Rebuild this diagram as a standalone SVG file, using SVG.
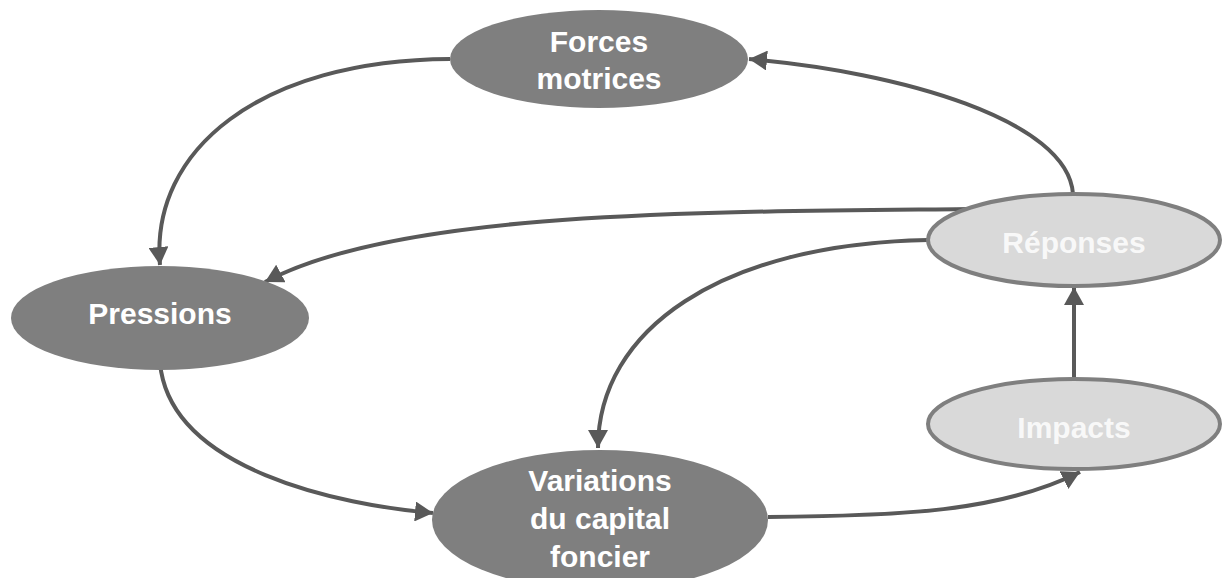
<svg xmlns="http://www.w3.org/2000/svg" width="1222" height="578" viewBox="0 0 1222 578">
<style>
.dark{fill:#7f7f7f;}
.light{fill:#d9d9d9;stroke:#7f7f7f;stroke-width:4;}
.lbl{font-family:"Liberation Sans",Arial,sans-serif;font-weight:bold;font-size:30px;fill:#ffffff;text-anchor:middle;}
.lblL{font-family:"Liberation Sans",Arial,sans-serif;font-weight:bold;font-size:30px;fill:#f8f8f8;text-anchor:middle;}
.edge{fill:none;stroke:#595959;stroke-width:4;}
</style>
<defs>
<marker id="arr" markerUnits="userSpaceOnUse" markerWidth="20" markerHeight="20" refX="18" refY="10" orient="auto">
<path d="M0,0 L18,10 L0,20 Z" fill="#595959"/>
</marker>
</defs>
<rect width="1222" height="578" fill="#ffffff"/>
<g id="connectors">
<path class="edge" marker-end="url(#arr)" d="M450,59 C260,60 150,150 160,265"/>
<path class="edge" marker-end="url(#arr)" d="M1073,194 C1068,120 900,72 749,59"/>
<path class="edge" marker-end="url(#arr)" d="M972,209 C700,212 400,210 265,282"/>
<path class="edge" marker-end="url(#arr)" d="M928,240 C720,244 598,330 598,448"/>
<path class="edge" marker-end="url(#arr)" d="M160,363 C170,470 340,505 433,513"/>
<path class="edge" marker-end="url(#arr)" d="M768,517 C900,516 1000,512 1080,472"/>
<path class="edge" marker-end="url(#arr)" d="M1074,378 L1074,287"/>
</g>
<g id="forces">
<ellipse class="dark" cx="599" cy="59" rx="149" ry="49"/>
<text class="lbl" x="599" y="52">Forces</text>
<text class="lbl" x="599" y="89">motrices</text>
</g>
<g id="pressions">
<ellipse class="dark" cx="160" cy="318" rx="149" ry="52"/>
<text class="lbl" x="160" y="324">Pressions</text>
</g>
<g id="reponses">
<ellipse class="light" cx="1074" cy="240" rx="146" ry="46"/>
<text class="lblL" x="1074" y="253">Réponses</text>
</g>
<g id="impacts">
<ellipse class="light" cx="1074" cy="424" rx="146" ry="45"/>
<text class="lblL" x="1074" y="438">Impacts</text>
</g>
<g id="variations">
<ellipse class="dark" cx="600" cy="520" rx="168" ry="70"/>
<text class="lbl" x="600" y="491">Variations</text>
<text class="lbl" x="600" y="529">du capital</text>
<text class="lbl" x="600" y="567">foncier</text>
</g>
</svg>
